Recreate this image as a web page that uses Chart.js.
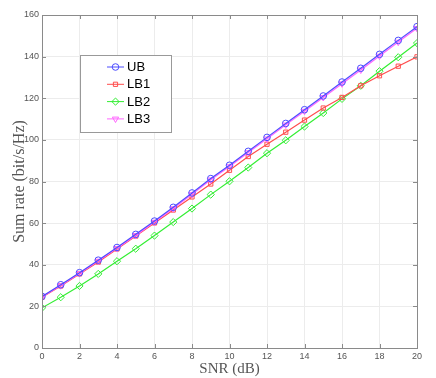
<!DOCTYPE html>
<html><head><meta charset="utf-8">
<script src="https://cdn.jsdelivr.net/npm/chart.js@4"></script>
<style>html,body{margin:0;padding:0;background:#fff}#wrap{width:436px;height:378px}</style>
</head><body><div id="wrap"><canvas id="c" width="436" height="378"></canvas></div>
<script>
const snr = [0,1,2,3,4,5,6,7,8,9,10,11,12,13,14,15,16,17,18,19,20];
const ub  = [24.8,30.4,36.2,42.2,48.3,54.6,61.0,67.6,74.5,81.4,87.8,94.5,101.2,107.9,114.5,121.1,127.8,134.4,141.1,147.8,154.4];
const lb1 = [24.4,29.8,35.6,41.3,47.6,53.8,60.1,66.3,72.6,78.8,85.4,92.0,97.9,103.7,109.5,115.3,120.4,126.0,130.8,135.4,139.9];
const lb2 = [19.3,24.4,29.8,35.6,41.7,47.7,54.0,60.5,67.0,73.7,80.1,86.7,93.6,99.8,106.4,112.9,119.7,126.0,133.0,139.7,146.5];
const lb3 = [24.5,30.0,35.8,41.8,47.9,54.1,60.5,67.0,73.9,80.8,87.2,93.9,100.5,107.2,113.8,120.4,127.0,133.6,140.3,147.0,153.6];
const seriesNames = ['UB','LB1','LB2','LB3'];
const xTicks = [0,2,4,6,8,10,12,14,16,18,20];
const yTicks = [0,20,40,60,80,100,120,140,160];

const colors = ['#4d4dff','#ff4d4d','#33ee33','#ff66ff'];
const styles = ['circle','rect','rectRot','triangle'];
const radii = [3.3,3.0,3.6,3.6];
const rots = [0,0,0,180];
const datas = [ub,lb1,lb2,lb3];

const datasets = seriesNames.map((n,i)=>({
  label:n, data:datas[i], borderColor:colors[i], backgroundColor:'rgba(0,0,0,0)',
  borderWidth:1.2, pointStyle:styles[i], pointRadius:radii[i], pointRotation:rots[i],
  pointBorderWidth:1, pointBorderColor:colors[i], pointBackgroundColor:'rgba(0,0,0,0)',
  tension:0, order: [1,3,4,2][i]
}));

const frame = {
  id:'frame',
  afterDraw(chart){
    const {ctx, chartArea:a, scales:{x,y}} = chart;
    ctx.save();
    ctx.strokeStyle='#8a8a8a'; ctx.lineWidth=1;
    ctx.strokeRect(Math.round(a.left)+0.5, Math.round(a.top)+0.5, Math.round(a.right-a.left), Math.round(a.bottom-a.top));
    ctx.beginPath();
    xTicks.forEach(v=>{const px=Math.round(x.getPixelForValue(v))+0.5; ctx.moveTo(px,a.bottom); ctx.lineTo(px,a.bottom-4); ctx.moveTo(px,a.top); ctx.lineTo(px,a.top+4);});
    yTicks.forEach(v=>{const py=Math.round(y.getPixelForValue(v))+0.5; ctx.moveTo(a.left,py); ctx.lineTo(a.left+4,py); ctx.moveTo(a.right,py); ctx.lineTo(a.right-4,py);});
    ctx.stroke();
    // legend
    const bx=80.5, by=55.5, bw=91, bh=77;
    ctx.fillStyle='#fff'; ctx.fillRect(bx,by,bw,bh);
    ctx.strokeStyle='#999'; ctx.strokeRect(bx,by,bw,bh);
    ctx.font='13px "Liberation Sans", Arial, sans-serif'; ctx.textBaseline='middle'; ctx.textAlign='left';
    seriesNames.forEach((n,i)=>{
      const cy = 67 + i*17.3;
      ctx.strokeStyle=colors[i]; ctx.lineWidth=1;
      ctx.beginPath(); ctx.moveTo(107,cy); ctx.lineTo(124,cy); ctx.stroke();
      ctx.fillStyle='rgba(0,0,0,0)';
      Chart.helpers.drawPoint(ctx,{pointStyle:styles[i], radius:radii[i], rotation:rots[i], borderWidth:1}, 115.5, cy);
      ctx.fillStyle='#000'; ctx.fillText(n,127,cy+0.5);
    });
    ctx.restore();
  }
};

new Chart(document.getElementById('c'),{
  type:'line',
  data:{labels:snr, datasets},
  options:{
    responsive:false, animation:false, devicePixelRatio:1,
    layout:{padding:{top:15,right:19,left:0,bottom:0}},
    plugins:{legend:{display:false}, tooltip:{enabled:false}},
    scales:{
      x:{type:'linear', min:0, max:20,
        afterBuildTicks(s){s.ticks=xTicks.map(v=>({value:v}));},
        grid:{color:'#ececec', drawTicks:false, lineWidth:1},
        border:{display:false},
        ticks:{color:'#555', font:{size:9, family:'"Liberation Sans", Arial, sans-serif'}, padding:3, maxRotation:0},
        title:{display:true, text:'SNR (dB)', color:'#555', font:{size:15, family:'"Liberation Serif","Times New Roman",serif'}, padding:{top:-5,bottom:0}},
        afterFit(s){s.height=30;}
      },
      y:{type:'linear', min:0, max:160,
        afterBuildTicks(s){s.ticks=yTicks.map(v=>({value:v}));},
        grid:{color:'#ececec', drawTicks:false, lineWidth:1},
        border:{display:false},
        ticks:{color:'#555', font:{size:9, family:'"Liberation Sans", Arial, sans-serif'}, padding:3},
        title:{display:true, text:'Sum rate (bit/s/Hz)', color:'#555', font:{size:16, family:'"Liberation Serif","Times New Roman",serif'}, padding:{top:10,bottom:0}},
        afterFit(s){s.width=42;}
      }
    }
  },
  plugins:[frame]
});
</script></body></html>
